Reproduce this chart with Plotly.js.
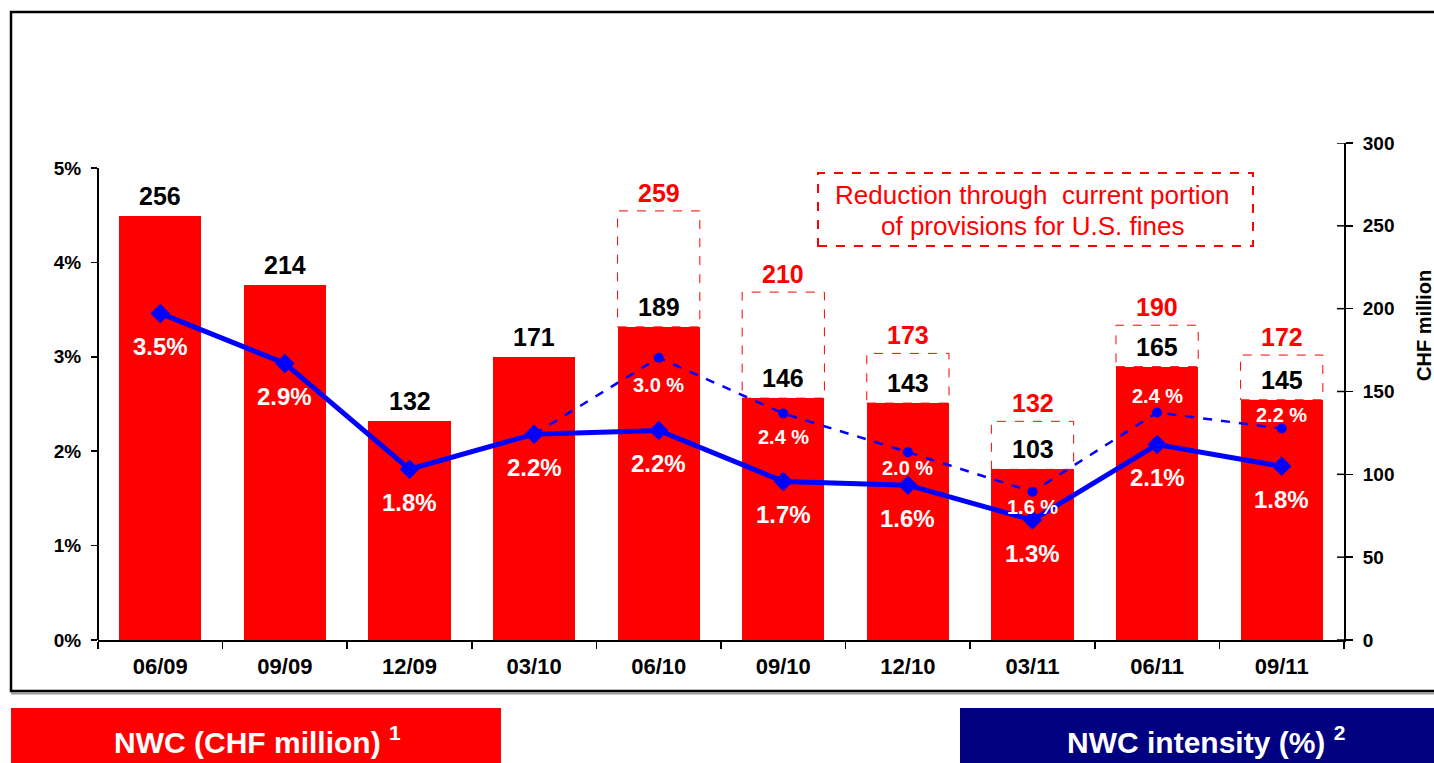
<!DOCTYPE html>
<html>
<head>
<meta charset="utf-8">
<script src="https://cdn.plot.ly/plotly-3.0.1.min.js"></script>
<style>html,body{margin:0;padding:0;background:#fff;}#chart{width:1434px;height:763px;}</style>
</head>
<body>
<div id="chart"></div>
<script>
// ---- data ----
const categories = ['06/09','09/09','12/09','03/10','06/10','09/10','12/10','03/11','06/11','09/11'];
const nwc = [256, 214, 132, 171, 189, 146, 143, 103, 165, 145];
const nwcBefore = [null, null, null, null, 259, 210, 173, 132, 190, 172];
const intensity = [3.46, 2.93, 1.81, 2.18, 2.22, 1.68, 1.64, 1.27, 2.07, 1.84];
const intensityLabels = ['3.5%','2.9%','1.8%','2.2%','2.2%','1.7%','1.6%','1.3%','2.1%','1.8%'];
const intensityBefore = [null, null, null, 2.18, 2.99, 2.40, 1.99, 1.57, 2.41, 2.24];
const intensityBeforeLabels = [null, null, null, null, '3.0 %','2.4 %','2.0 %','1.6 %','2.4 %','2.2 %'];
const pctTicks = [0, 1, 2, 3, 4, 5];
const pctTickText = ['0%','1%','2%','3%','4%','5%'];
const chfTicks = [0, 50, 100, 150, 200, 250, 300];
const noteLines = ['Reduction through  current portion', 'of provisions for U.S. fines'];
const legendLeft = 'NWC (CHF million) <sup>1</sup>';
const legendRight = 'NWC intensity (%) <sup>2</sup>';
const rightAxisTitle = 'CHF million';

// ---- layout helpers (pixel -> paper) ----
const W = 1434, H = 763, L = 98, R = 1344, T = 143, B = 640;
const px = p => (p - L) / (R - L);
const py = p => (B - p) / (B - T);
const FONT = 'Liberation Sans, Arial, sans-serif';
const RED = '#FF0000', BLUE = '#0000FF', NAVY = '#000080';
const barWidth = 0.66;
const pctMax = 5 * (B - T) / (B - 168);

// dashed-label offsets (style)
const beforeLabelShift = [0, 0, 0, 0, -27, -24, -16, -15, 17, 14];

const traces = [
  {
    type: 'bar', x: categories, y: nwc, yaxis: 'y', xaxis: 'x',
    width: barWidth, marker: {color: RED, line: {width: 0}}, hoverinfo: 'skip'
  },
  {
    type: 'scatter', mode: 'lines+markers', x: categories, y: intensityBefore, yaxis: 'y2',
    line: {color: BLUE, width: 2.5, dash: 'dash'},
    marker: {symbol: 'circle', size: 10, color: BLUE}, connectgaps: false, hoverinfo: 'skip'
  },
  {
    type: 'scatter', mode: 'lines+markers', x: categories, y: intensity, yaxis: 'y2',
    line: {color: BLUE, width: 5},
    marker: {symbol: 'diamond', size: 15, color: BLUE}, hoverinfo: 'skip'
  }
];

const annotations = [];
const shapes = [];

categories.forEach((c, i) => {
  // bar value labels
  annotations.push({x: c, y: nwc[i], xref: 'x', yref: 'y', text: String(nwc[i]), showarrow: false,
    yanchor: 'middle', yshift: 20, font: {family: FONT, size: 25, color: '#000', weight: 'bold'}});
  if (nwcBefore[i] != null) {
    annotations.push({x: c, y: nwcBefore[i], xref: 'x', yref: 'y', text: String(nwcBefore[i]), showarrow: false,
      yanchor: 'middle', yshift: 18, font: {family: FONT, size: 25, color: RED, weight: 'bold'}});
    shapes.push({type: 'rect', xref: 'x', yref: 'y', x0: i - barWidth / 2, x1: i + barWidth / 2,
      y0: nwc[i], y1: nwcBefore[i], line: {color: RED, width: 1, dash: 'dash'}, fillcolor: 'rgba(0,0,0,0)'});
  }
  // solid line labels
  annotations.push({x: c, y: intensity[i], xref: 'x', yref: 'y2', text: intensityLabels[i], showarrow: false,
    yanchor: 'middle', yshift: -33, font: {family: FONT, size: 24, color: '#fff', weight: 'bold'}});
  if (intensityBeforeLabels[i] != null) {
    annotations.push({x: c, y: intensityBefore[i], xref: 'x', yref: 'y2', text: intensityBeforeLabels[i], showarrow: false,
      yanchor: 'middle', yshift: beforeLabelShift[i], font: {family: FONT, size: 20, color: '#fff', weight: 'bold'}});
  }
});

// right axis crossing ticks (inner half)
chfTicks.forEach(v => {
  shapes.push({type: 'line', xref: 'paper', yref: 'y', x0: 1 - 7 / (R - L), x1: 1, y0: v, y1: v,
    line: {color: '#000', width: 1.5}});
});
// left axis line up to 5%
shapes.push({type: 'line', xref: 'paper', yref: 'y2', x0: 0, x1: 0, y0: 0, y1: 5, line: {color: '#000', width: 2}});

// outer frame
shapes.push({type: 'line', xref: 'paper', yref: 'paper', x0: px(11), x1: px(1440), y0: py(693.5), y1: py(693.5),
  line: {color: '#999', width: 2}, layer: 'below'});
shapes.push({type: 'rect', xref: 'paper', yref: 'paper', x0: px(11), x1: px(1445), y0: py(691), y1: py(12),
  line: {color: '#000', width: 2.5}, fillcolor: 'rgba(0,0,0,0)', layer: 'below'});

// note box
shapes.push({type: 'rect', xref: 'paper', yref: 'paper', x0: px(818), x1: px(1253), y0: py(246), y1: py(173),
  line: {color: RED, width: 2, dash: 'dash'}, fillcolor: 'rgba(0,0,0,0)'});
[195, 226].forEach((yy, k) => {
  annotations.push({xref: 'paper', yref: 'paper', x: px(1032), y: py(yy), text: noteLines[k], showarrow: false,
    xanchor: 'center', yanchor: 'middle', font: {family: FONT, size: 26, color: RED}});
});

// legend boxes
shapes.push({type: 'rect', xref: 'paper', yref: 'paper', x0: px(11), x1: px(501), y0: py(763), y1: py(708),
  line: {width: 0}, fillcolor: RED});
shapes.push({type: 'rect', xref: 'paper', yref: 'paper', x0: px(960), x1: px(1440), y0: py(763), y1: py(708),
  line: {width: 0}, fillcolor: NAVY});
annotations.push({xref: 'paper', yref: 'paper', x: px(257), y: py(740), text: legendLeft, showarrow: false,
  xanchor: 'center', yanchor: 'middle', font: {family: FONT, size: 30, color: '#fff', weight: 'bold'}});
annotations.push({xref: 'paper', yref: 'paper', x: px(1206), y: py(740), text: legendRight, showarrow: false,
  xanchor: 'center', yanchor: 'middle', font: {family: FONT, size: 30, color: '#fff', weight: 'bold'}});

// right axis title
annotations.push({xref: 'paper', yref: 'paper', x: px(1424), y: py(326), text: rightAxisTitle, showarrow: false,
  textangle: -90, xanchor: 'center', yanchor: 'middle', font: {family: FONT, size: 20, color: '#000', weight: 'bold'}});

const layout = {
  width: W, height: H,
  margin: {l: L, r: W - R, t: T, b: H - B, pad: 0},
  paper_bgcolor: '#fff', plot_bgcolor: 'rgba(0,0,0,0)',
  showlegend: false,
  bargap: 0,
  font: {family: FONT, color: '#000'},
  xaxis: {
    type: 'category', range: [-0.5, 9.5], showgrid: false, zeroline: false,
    showline: true, linecolor: '#000', linewidth: 2,
    ticks: 'outside', ticklen: 7, tickwidth: 1.5, tickcolor: '#000', tickson: 'boundaries',
    tickfont: {family: FONT, size: 22, color: '#000', weight: 'bold'}, ticklabelstandoff: 6
  },
  yaxis: {
    side: 'right', range: [0, 300], tickvals: chfTicks, showgrid: false, zeroline: false,
    showline: true, linecolor: '#000', linewidth: 2,
    ticks: 'outside', ticklen: 7, tickwidth: 1.5, tickcolor: '#000',
    tickfont: {family: FONT, size: 19, color: '#000', weight: 'bold'}, ticklabelstandoff: 6
  },
  yaxis2: {
    overlaying: 'y', side: 'left', range: [0, pctMax], tickvals: pctTicks, ticktext: pctTickText,
    showgrid: false, zeroline: false, showline: false,
    ticks: 'outside', ticklen: 6, tickwidth: 1.5, tickcolor: '#000',
    tickfont: {family: FONT, size: 19, color: '#000', weight: 'bold'}, ticklabelstandoff: 6
  },
  shapes: shapes,
  annotations: annotations
};

Plotly.newPlot('chart', traces, layout, {displayModeBar: false, staticPlot: true});
</script>
</body>
</html>
